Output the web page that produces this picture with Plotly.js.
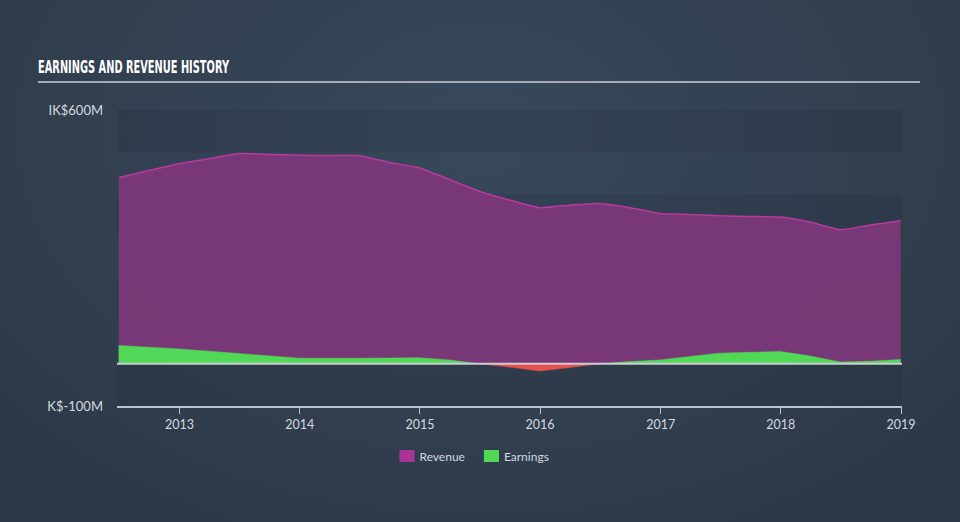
<!DOCTYPE html>
<html>
<head>
<meta charset="utf-8">
<script src="https://cdn.plot.ly/plotly-3.0.1.min.js"></script>
<style>
html,body{margin:0;padding:0;width:960px;height:522px;overflow:hidden;
background:radial-gradient(ellipse 70% 90% at 50% 25%, #37495b 0%, #323f4f 60%, #2c3845 100%);}
#chart{width:960px;height:522px;}
</style>
</head>
<body>
<div id="chart"></div>
<script>
var revenueDates = ["2012-06-30","2012-09-30","2012-12-31","2013-03-31","2013-06-30","2013-09-30","2013-12-31","2014-03-31","2014-06-30","2014-09-30","2014-12-31","2015-03-31","2015-06-30","2015-09-30","2015-12-31","2016-03-31","2016-06-30","2016-09-30","2016-12-31","2017-03-31","2017-06-30","2017-09-30","2017-12-31","2018-03-31","2018-06-30","2018-09-30","2018-12-31"];
var revenueValues = [440,457,473,485,497,495,493,492,492,476,463,436,408,387,369,375,379,369,355,353,350,348,347,335,317,328,338];

var earningsDates = ["2012-06-30","2012-12-31","2013-06-30","2013-12-31","2014-06-30","2014-12-31","2015-03-31","2015-06-30","2015-09-30","2015-12-31","2016-03-31","2016-06-30","2016-09-30","2016-12-31","2017-03-31","2017-06-30","2017-09-30","2017-12-31","2018-03-31","2018-06-30","2018-09-30","2018-12-31"];
var earningsValues = [43,35,24,13,13,14,9,0,-8,-17,-9,0,5,9,17,25,27,29,18,4,6,10];

var yTickVals = [-100, 600];
var yTickText = ["K$-100M", "IK$600M"];
var xTickVals = ["2013-01-01","2014-01-01","2015-01-01","2016-01-01","2017-01-01","2018-01-01","2019-01-01"];
var xTickText = ["2013","2014","2015","2016","2017","2018","2019"];

var earnPos = earningsValues.map(function(v){return Math.max(v,0);});
var earnNeg = earningsValues.map(function(v){return Math.min(v,0);});

var traces = [
  {x: revenueDates, y: revenueValues, name: "Revenue", showlegend: false, type: "scatter", mode: "lines",
   fill: "tozeroy", fillcolor: "rgba(124,56,121,0.95)",
   line: {color: "#bb38a2", width: 1.5, shape: "spline", smoothing: 0.4}},
  {x: earningsDates, y: earnPos, name: "Earnings", showlegend: false, type: "scatter", mode: "lines",
   fill: "tozeroy", fillcolor: "#52d857",
   line: {color: "#52d857", width: 0.5}},
  {x: earningsDates, y: earnNeg, name: "Loss", showlegend: false, type: "scatter", mode: "lines",
   fill: "tozeroy", fillcolor: "#e5514b",
   line: {color: "#e5514b", width: 0.5}},
  {x: [null], y: [null], name: "Revenue", type: "bar", marker: {color: "#a93494"}, showlegend: true},
  {x: [null], y: [null], name: "Earnings", type: "bar", marker: {color: "#52d857"}, showlegend: true}
];

var shapes = [];
[[500,600],[300,400],[100,200],[-100,0]].forEach(function(b){
  shapes.push({type:"rect", xref:"paper", yref:"y", x0:0, x1:1, y0:b[0], y1:b[1],
    fillcolor:"rgba(22,32,44,0.13)", line:{width:0}, layer:"below"});
});
shapes.push({type:"line", xref:"paper", yref:"y", x0:0, x1:1, y0:0, y1:0,
  line:{color:"#c9cdd2", width:2}, layer:"above"});
shapes.push({type:"line", xref:"paper", yref:"paper", x0:(38-117)/785, x1:(920-117)/785,
  y0:(406-82)/296, y1:(406-82)/296, line:{color:"#a3abb6", width:2}});

var layout = {
  width: 960, height: 522,
  paper_bgcolor: "rgba(0,0,0,0)", plot_bgcolor: "rgba(0,0,0,0)",
  margin: {l: 117, r: 58, t: 110, b: 116},
  showlegend: true,
  title: {text: "EARNINGS AND REVENUE HISTORY", x: 38/960, xanchor: "left", xref: "container",
          y: 1 - 67/522, yanchor: "middle", yref: "container",
          font: {family: "Liberation Sans Narrow, DejaVu Sans Condensed, Arial Narrow, sans-serif", size: 18, color: "#ffffff", weight: 700}},
  xaxis: {type: "date", range: ["2012-06-25","2019-01-04"], tickvals: xTickVals, ticktext: xTickText,
          showgrid: false, zeroline: false, showline: true, linecolor: "#b9c3d0", linewidth: 1.5,
          ticks: "outside", ticklen: 6, tickcolor: "#b9c3d0", tickwidth: 1,
          tickfont: {family: "Lato, Open Sans, sans-serif", size: 12.5, color: "#d4d9df"}, fixedrange: true},
  yaxis: {range: [-100, 600], tickvals: yTickVals, ticktext: yTickText, showgrid: false,
          zeroline: false, showline: false,
          ticks: "", ticklabelstandoff: 13,
          tickfont: {family: "Lato, Open Sans, sans-serif", size: 13, color: "#d4d9df"}, fixedrange: true},
  legend: {orientation: "h", x: 0.4586 - 7/785, xanchor: "center", y: -50/296, yanchor: "middle",
           font: {family: "Lato, Open Sans, sans-serif", size: 12, color: "#d4d9df"},
           bgcolor: "rgba(0,0,0,0)"},
  shapes: shapes
};

Plotly.newPlot("chart", traces, layout, {displayModeBar: false, staticPlot: true}).then(function(){
  var t = document.querySelector(".gtitle");
  if (t) {
    t.setAttribute("textLength", "191");
    t.setAttribute("lengthAdjust", "spacingAndGlyphs");
  }
  document.querySelectorAll(".legend .legendpoints").forEach(function(g){
    g.setAttribute("transform", "translate(7.5,0)");
    g.querySelectorAll("path").forEach(function(p){ p.setAttribute("d", "M7.5,6H-7.5V-6H7.5Z"); });
  });
  var items = document.querySelectorAll(".legend .traces");
  if (items.length > 1) {
    var tr = items[1].getAttribute("transform") || "";
    var m = tr.match(/translate\(\s*([-\d.]+)[ ,]+([-\d.]+)\s*\)/);
    if (m) items[1].setAttribute("transform", "translate(" + (parseFloat(m[1]) - 6) + "," + m[2] + ")");
  }
});
</script>
</body>
</html>
